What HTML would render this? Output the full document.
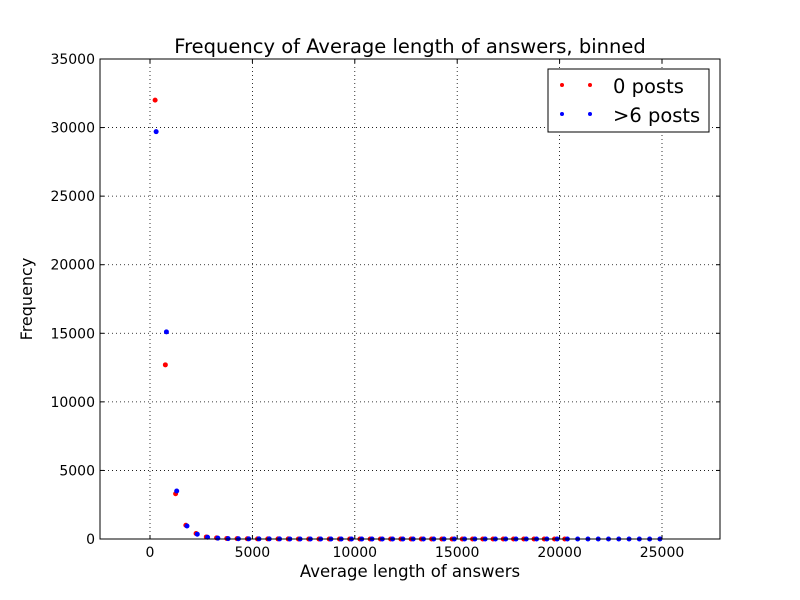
<!DOCTYPE html>
<html><head><meta charset="utf-8"><style>
body{margin:0;background:#fff;}
svg{display:block;font-family:"DejaVu Sans","Liberation Sans",sans-serif;}
</style></head><body>
<svg width="800" height="600">
<rect width="800" height="600" fill="#fff"/>
<g id="grid"></g>
<g id="marks"></g>
<rect x="100" y="59" width="620" height="480" fill="none" stroke="#000" stroke-width="1"/>
<g id="ticks"></g>
<text x="410" y="53" text-anchor="middle" font-size="19.5">Frequency of Average length of answers, binned</text>
<text x="410" y="577" text-anchor="middle" font-size="16.5">Average length of answers</text>
<text transform="translate(32,299) rotate(-90)" text-anchor="middle" font-size="16">Frequency</text>
<g>
<rect x="548" y="69" width="161" height="63" fill="#fff" stroke="#000"/>
<g>
<circle cx="562" cy="85" r="2" fill="#f00"/><circle cx="590" cy="85" r="2" fill="#f00"/>
<text x="613" y="93" font-size="19.5">0 posts</text></g>
<g>
<circle cx="562" cy="114" r="2" fill="#00f"/><circle cx="590" cy="114" r="2" fill="#00f"/>
<text x="613" y="122" font-size="19.5">&gt;6 posts</text></g>
</g>
</svg>
<script>
const xTicks=[0,5000,10000,15000,20000,25000];
const yTicks=[0,5000,10000,15000,20000,25000,30000,35000];
const redY=[32000,12700,3300,1000,400,150,80,40,25,15,10,8,6,5,4,3,3,2,2,2,1,1,1,1,1,1,1,1,1,1,1,1,1,1,1,1,1,1,1,1,1];
const blueY=[29700,15100,3500,950,350,130,60,30,18,12,9,7,5,4,3,3,2,2,2,2,1,1,1,1,1,1,1,1,1,1,1,1,1,1,1,1,1,1,1,1,1,1,1,1,1,1,1,1,1,1];
const redStart=250, redStep=500, blueStart=300, blueStep=502;
const X=v=>150+v*(512/25000);
const Y=v=>539-v*(480/35000);
const NS="http://www.w3.org/2000/svg";
const grid=document.getElementById('grid'),ticks=document.getElementById('ticks'),marks=document.getElementById('marks');
function mk(tag,attrs,parent){const e=document.createElementNS(NS,tag);for(const k in attrs)e.setAttribute(k,attrs[k]);parent.appendChild(e);return e;}
xTicks.forEach(t=>{const x=X(t);
 const g=mk('line',{x1:x,x2:x,y1:59,y2:539,stroke:'#000','stroke-dasharray':'1,3','stroke-width':0.8},grid);
 
 
 mk('line',{x1:x,x2:x,y1:539,y2:535,stroke:'#000'},ticks);
 mk('line',{x1:x,x2:x,y1:59,y2:63,stroke:'#000'},ticks);
 const l=mk('text',{x:x,y:557,'text-anchor':'middle','font-size':14},ticks);l.textContent=t;
 
 
});
yTicks.forEach(t=>{const y=Y(t);
 const g=mk('line',{x1:100,x2:720,y1:y,y2:y,stroke:'#000','stroke-dasharray':'1,3','stroke-width':0.8},grid);
 
 
 mk('line',{x1:100,x2:104,y1:y,y2:y,stroke:'#000'},ticks);
 mk('line',{x1:716,x2:720,y1:y,y2:y,stroke:'#000'},ticks);
 const l=mk('text',{x:95,y:y+5,'text-anchor':'end','font-size':14},ticks);l.textContent=t;
 
 
});
redY.forEach((v,i)=>{const c=mk('circle',{cx:X(redStart+i*redStep),cy:Y(v),r:2.5,fill:'#f00'},marks);
 
 });
blueY.forEach((v,i)=>{const c=mk('circle',{cx:X(blueStart+i*blueStep),cy:Y(v),r:2.5,fill:'#00f'},marks);
 
 });
</script>
</body></html>
